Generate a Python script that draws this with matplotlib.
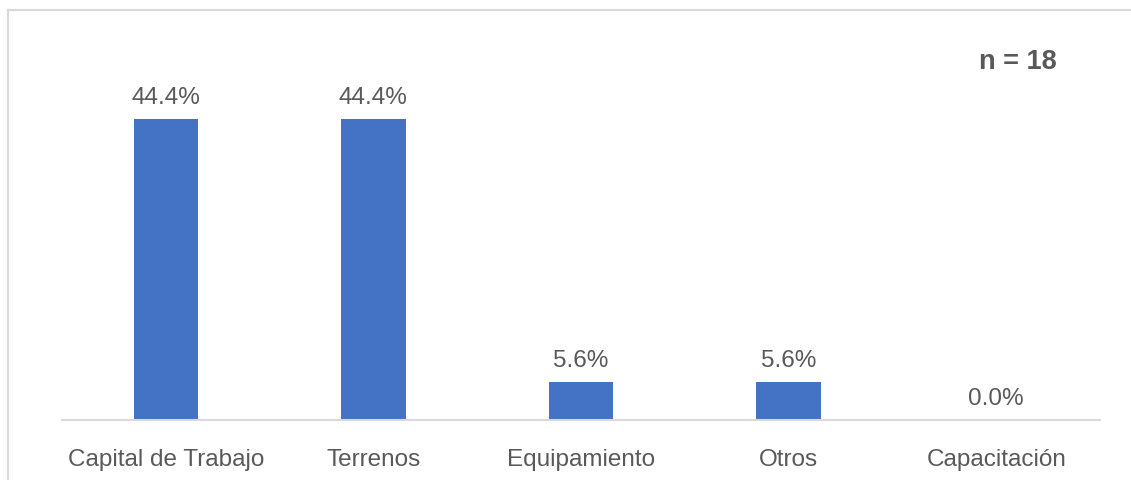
import matplotlib
matplotlib.use("Agg")
from matplotlib import pyplot as plt
from matplotlib.lines import Line2D

#%%
# data
categorias = ["Capital de Trabajo", "Terrenos", "Equipamiento", "Otros", "Capacitación"]
porcentajes = [44.4, 44.4, 5.6, 5.6, 0.0]
etiquetas = ["44.4%", "44.4%", "5.6%", "5.6%", "0.0%"]
n_texto = "n = 18"

bar_color = "#4472C4"
text_color = "#595959"
grid_color = "#D9D9D9"

plt.rcParams["font.family"] = ["Liberation Sans", "DejaVu Sans"]

#%%
fig = plt.figure(figsize=(11.31, 4.81), dpi=100)
ax = fig.add_axes([62 / 1131, 60 / 481, 1038 / 1131, 391 / 481])

x = list(range(len(categorias)))
bars = ax.bar(x, porcentajes, width=0.31, color=bar_color, zorder=2)

for xi, v, lab in zip(x, porcentajes, etiquetas):
    ax.annotate(lab, (xi, v), xytext=(0, 8), textcoords="offset points",
                ha="center", va="bottom", fontsize=17.5, color=text_color)

ax.set_xlim(-0.5, len(categorias) - 0.5)
ax.set_ylim(0, 57.7)
ax.set_xticks(x)
ax.set_xticklabels(categorias, fontsize=17.5, color=text_color)
ax.tick_params(axis="x", length=0, pad=20)
ax.set_yticks([])
for s in ["top", "right", "left"]:
    ax.spines[s].set_visible(False)
ax.spines["bottom"].set_color(grid_color)
ax.spines["bottom"].set_linewidth(1.5)

fig.text(1018 / 1131, 1 - 62 / 481, n_texto, ha="center", va="center",
         fontsize=19.5, fontweight="bold", color=text_color)

# chart border (top and left visible)
fig.add_artist(Line2D([8 / 1131, 8 / 1131], [0, 1 - 11 / 481], transform=fig.transFigure,
                      color=grid_color, lw=1.5))
fig.add_artist(Line2D([8 / 1131, 1], [1 - 11 / 481, 1 - 11 / 481], transform=fig.transFigure,
                      color=grid_color, lw=1.5))

fig.savefig("out.png", dpi=100, facecolor="white")
